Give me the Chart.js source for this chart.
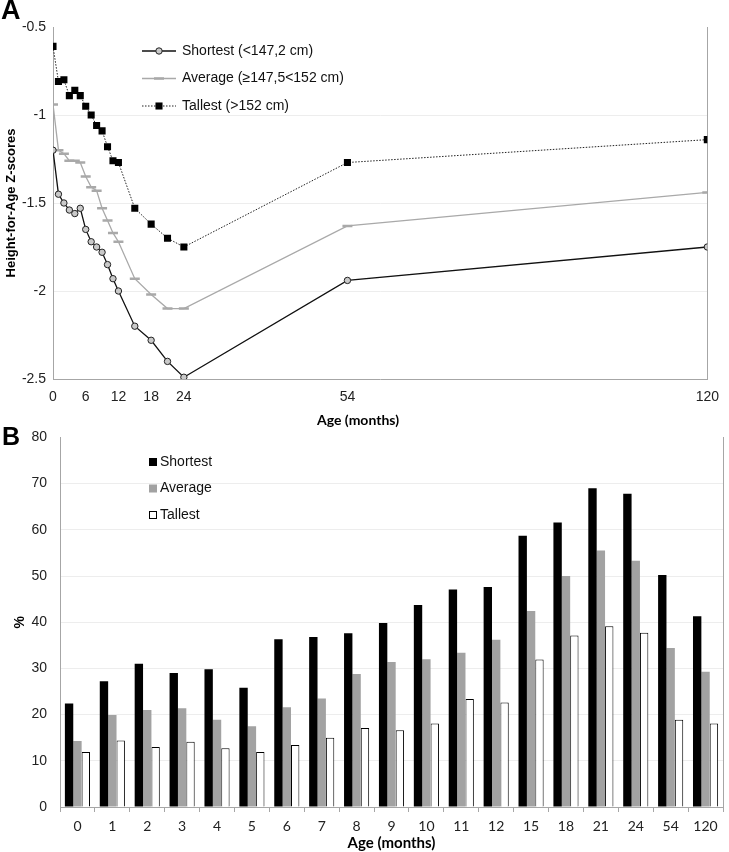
<!DOCTYPE html>
<html>
<head>
<meta charset="utf-8">
<title>Height-for-age Z-scores and stunting by age</title>
<script src="https://cdn.jsdelivr.net/npm/chart.js@4.4.1/dist/chart.umd.min.js"></script>
<style>
    html, body { margin: 0; padding: 0; background: #fff; }
    body { width: 729px; height: 852px; position: relative; overflow: hidden; }
    .panel-letter { position: absolute; font-family: "Liberation Sans", Arial, sans-serif; font-weight: bold; line-height: 1; color: #000; }
    #letterA { left: 1px; top: -3px; font-size: 27px; }
    #letterB { left: 2px; top: 424px; font-size: 25px; }
    #wrapA { position: absolute; left: 0; top: 0; }
    #wrapB { position: absolute; left: 0; top: 416px; }
    #titleAx { position: absolute; left: 258px; top: 412px; width: 200px; text-align: center;
               font: bold 14px/16px Lato, sans-serif; color: #000; }
</style>
</head>
<body>
<div id="wrapA"><canvas id="zChart" width="729" height="415"></canvas></div>
<div id="titleAx">Age (months)</div>
<div id="wrapB"><canvas id="pctChart" width="729" height="436"></canvas></div>
<div class="panel-letter" id="letterA">A</div>
<div class="panel-letter" id="letterB">B</div>

<script>
// ---- Panel A data: mean height-for-age Z-scores by age ----
const agesA = [0, 1, 2, 3, 4, 5, 6, 7, 8, 9, 10, 11, 12, 15, 18, 21, 24, 54, 120];
const ageTicksA = [0, 6, 12, 18, 24, 54, 120];
const zShortest = [-1.20, -1.45, -1.50, -1.54, -1.56, -1.53, -1.65, -1.72, -1.75, -1.78, -1.85, -1.93, -2.00, -2.20, -2.28, -2.40, -2.49, -1.94, -1.75];
const zAverage = [-0.94, -1.20, -1.22, -1.26, -1.26, -1.27, -1.35, -1.41, -1.43, -1.53, -1.60, -1.67, -1.72, -1.93, -2.02, -2.10, -2.10, -1.63, -1.44];
const zTallest = [-0.61, -0.81, -0.80, -0.89, -0.86, -0.89, -0.95, -1.00, -1.06, -1.09, -1.18, -1.26, -1.27, -1.53, -1.62, -1.70, -1.75, -1.27, -1.14];
const seriesNamesA = ['Shortest (<147,2 cm)', 'Average (\u2265147,5<152 cm)', 'Tallest (>152 cm)'];

// ---- Panel B data: % stunted by age ----
const agesB = ['0', '1', '2', '3', '4', '5', '6', '7', '8', '9', '10', '11', '12', '15', '18', '21', '24', '54', '120'];
const pctShortest = [22.4, 27.2, 31.0, 29.0, 29.8, 25.8, 36.3, 36.8, 37.6, 39.8, 43.7, 47.1, 47.6, 58.7, 61.6, 69.0, 67.8, 50.2, 41.3];
const pctAverage = [14.3, 19.9, 21.0, 21.4, 18.9, 17.5, 21.6, 23.5, 28.8, 31.4, 32.0, 33.4, 36.2, 42.4, 50.0, 55.5, 53.3, 34.4, 29.3];
const pctTallest = [11.9, 14.4, 13.0, 14.1, 12.7, 11.9, 13.4, 15.0, 17.1, 16.6, 18.1, 23.4, 22.6, 31.9, 37.1, 39.1, 37.7, 18.9, 18.1];
const seriesNamesB = ['Shortest', 'Average', 'Tallest'];

const axisColor = '#a6a6a6';
const gridColor = '#ededed';
const tickFont = { family: '"Liberation Sans", Arial, sans-serif', size: 14 };

// Legend drawn inside the plot area (Chart.js legend can't sit there)
const insideLegend = {
    id: 'insideLegend',
    afterDatasetsDraw(chart, args, opts) {
        const ctx = chart.ctx;
        ctx.save();
        chart.data.datasets.forEach(function(ds, i) {
            const y = opts.top + i * opts.rowGap;
            if (opts.kind === 'line') {
                ctx.strokeStyle = ds.borderColor;
                ctx.lineWidth = ds.borderWidth;
                ctx.setLineDash(ds.borderDash || []);
                ctx.beginPath();
                ctx.moveTo(opts.left, y);
                ctx.lineTo(opts.left + opts.symbolWidth, y);
                ctx.stroke();
                ctx.setLineDash([]);
                ctx.fillStyle = ds.pointBackgroundColor;
                ctx.strokeStyle = ds.pointBorderColor;
                ctx.lineWidth = ds.pointBorderWidth;
                Chart.helpers.drawPoint(ctx, {
                    pointStyle: ds.pointStyle,
                    radius: ds.pointRadius,
                    rotation: 0,
                    borderWidth: ds.pointBorderWidth
                }, opts.left + opts.symbolWidth / 2, y);
            } else {
                const s = opts.symbolWidth;
                ctx.fillStyle = ds.backgroundColor;
                ctx.fillRect(opts.left, y - s / 2, s, s);
                if (ds.borderWidth) {
                    ctx.strokeStyle = ds.borderColor;
                    ctx.lineWidth = 1;
                    ctx.strokeRect(opts.left + 0.5, y - s / 2 + 0.5, s - 1, s - 1);
                }
            }
            ctx.fillStyle = '#111';
            ctx.font = opts.font;
            ctx.textBaseline = 'middle';
            ctx.textAlign = 'left';
            ctx.fillText(ds.label, opts.textX, y);
        });
        ctx.restore();
    }
};

function toPoints(values) {
    return values.map(function(v, i) { return { x: agesA[i], y: v }; });
}

// ---- Panel A: line chart ----
new Chart(document.getElementById('zChart'), {
    type: 'line',
    data: {
        datasets: [
            {
                label: seriesNamesA[0],
                data: toPoints(zShortest),
                borderColor: '#111',
                borderWidth: 1.3,
                pointStyle: 'circle',
                pointRadius: 3.2,
                pointBackgroundColor: '#c9c9c9',
                pointBorderColor: '#222',
                pointBorderWidth: 1
            },
            {
                label: seriesNamesA[1],
                data: toPoints(zAverage),
                borderColor: '#a9a9a9',
                borderWidth: 1.3,
                pointStyle: 'line',
                pointRadius: 5,
                pointBackgroundColor: '#a9a9a9',
                pointBorderColor: '#a9a9a9',
                pointBorderWidth: 2.5
            },
            {
                label: seriesNamesA[2],
                data: toPoints(zTallest),
                borderColor: '#222',
                borderWidth: 1,
                borderDash: [1.5, 1.5],
                pointStyle: 'rect',
                pointRadius: 5,
                pointBackgroundColor: '#000',
                pointBorderColor: '#000',
                pointBorderWidth: 0
            }
        ]
    },
    options: {
        responsive: false,
        animation: false,
        layout: { padding: { top: 27, left: 0, right: 0, bottom: 0 } },
        plugins: {
            legend: { display: false },
            tooltip: { enabled: false },
            insideLegend: {
                kind: 'line',
                left: 142, symbolWidth: 34, textX: 182,
                top: 51, rowGap: 27.5,
                font: '14px "Liberation Sans", Arial, sans-serif'
            }
        },
        scales: {
            x: {
                type: 'linear',
                min: 0,
                max: 120,
                afterBuildTicks: function(scale) {
                    scale.ticks = ageTicksA.map(function(v) { return { value: v }; });
                },
                afterFit: function(scale) { scale.height = 36; },
                grid: { display: false, drawTicks: false },
                border: { color: axisColor },
                ticks: { padding: 10, font: tickFont, color: '#222', maxRotation: 0, autoSkip: false }
            },
            y: {
                min: -2.5,
                max: -0.5,
                afterFit: function(scale) { scale.width = 53; },
                ticks: {
                    stepSize: 0.5, padding: 7, font: tickFont, color: '#222',
                    callback: function(value) { return String(value); }
                },
                grid: {
                    drawTicks: false,
                    color: function(c) {
                        const v = c.tick ? c.tick.value : 0;
                        return (v <= -2.5 || v >= -0.5) ? 'rgba(0,0,0,0)' : gridColor;
                    }
                },
                border: { color: axisColor },
                title: {
                    display: true,
                    text: 'Height-for-Age Z-scores',
                    color: '#000',
                    font: { family: '"Liberation Sans", Arial, sans-serif', size: 13, weight: 'bold' },
                    padding: { top: 4, bottom: 0 }
                }
            },
            yRight: {
                position: 'right',
                min: -2.5,
                max: -0.5,
                afterFit: function(scale) { scale.width = 12; },
                ticks: { display: false },
                grid: { display: false, drawTicks: false },
                border: { color: axisColor }
            }
        }
    },
    plugins: [insideLegend]
});

// ---- Panel B: grouped bar chart ----
new Chart(document.getElementById('pctChart'), {
    type: 'bar',
    data: {
        labels: agesB,
        datasets: [
            { label: seriesNamesB[0], data: pctShortest, backgroundColor: '#000', borderWidth: 0 },
            { label: seriesNamesB[1], data: pctAverage, backgroundColor: '#a2a2a2', borderWidth: 0 },
            { label: seriesNamesB[2], data: pctTallest, backgroundColor: '#fff', borderColor: '#000', borderWidth: 1, borderSkipped: 'bottom' }
        ]
    },
    options: {
        responsive: false,
        animation: false,
        layout: { padding: { top: 17, left: 0, right: 0, bottom: 0 } },
        datasets: { bar: { categoryPercentage: 0.72, barPercentage: 1.0 } },
        plugins: {
            legend: { display: false },
            tooltip: { enabled: false },
            insideLegend: {
                kind: 'box',
                left: 149, symbolWidth: 8, textX: 160,
                top: 46, rowGap: 26.5,
                font: '14px "Liberation Sans", Arial, sans-serif'
            }
        },
        scales: {
            x: {
                afterFit: function(scale) { scale.height = 45; },
                grid: { offset: true, drawOnChartArea: false, drawTicks: true, tickLength: 5, color: axisColor },
                border: { color: axisColor },
                ticks: { padding: 6, font: { family: 'Lato, sans-serif', size: 14 }, color: '#222', maxRotation: 0, autoSkip: false },
                title: {
                    display: true,
                    text: 'Age (months)',
                    color: '#000',
                    font: { family: 'Lato, sans-serif', size: 15, weight: 'bold' },
                    padding: { top: 0, bottom: 0 }
                }
            },
            y: {
                min: 0,
                max: 80,
                afterFit: function(scale) { scale.width = 60; },
                ticks: { stepSize: 10, padding: 13, font: tickFont, color: '#222' },
                grid: {
                    drawTicks: false,
                    color: function(c) {
                        const v = c.tick ? c.tick.value : 0;
                        return (v <= 0 || v >= 80) ? 'rgba(0,0,0,0)' : gridColor;
                    }
                },
                border: { color: axisColor },
                title: {
                    display: true,
                    text: '%',
                    color: '#000',
                    font: { family: '"Liberation Sans", Arial, sans-serif', size: 14, weight: 'bold' },
                    padding: { top: 12, bottom: 0 }
                }
            },
            yRight: {
                position: 'right',
                min: 0,
                max: 80,
                afterFit: function(scale) { scale.width = 6; },
                ticks: { display: false },
                grid: { display: false, drawTicks: false },
                border: { color: axisColor }
            }
        }
    },
    plugins: [insideLegend]
});
</script>
</body>
</html>
